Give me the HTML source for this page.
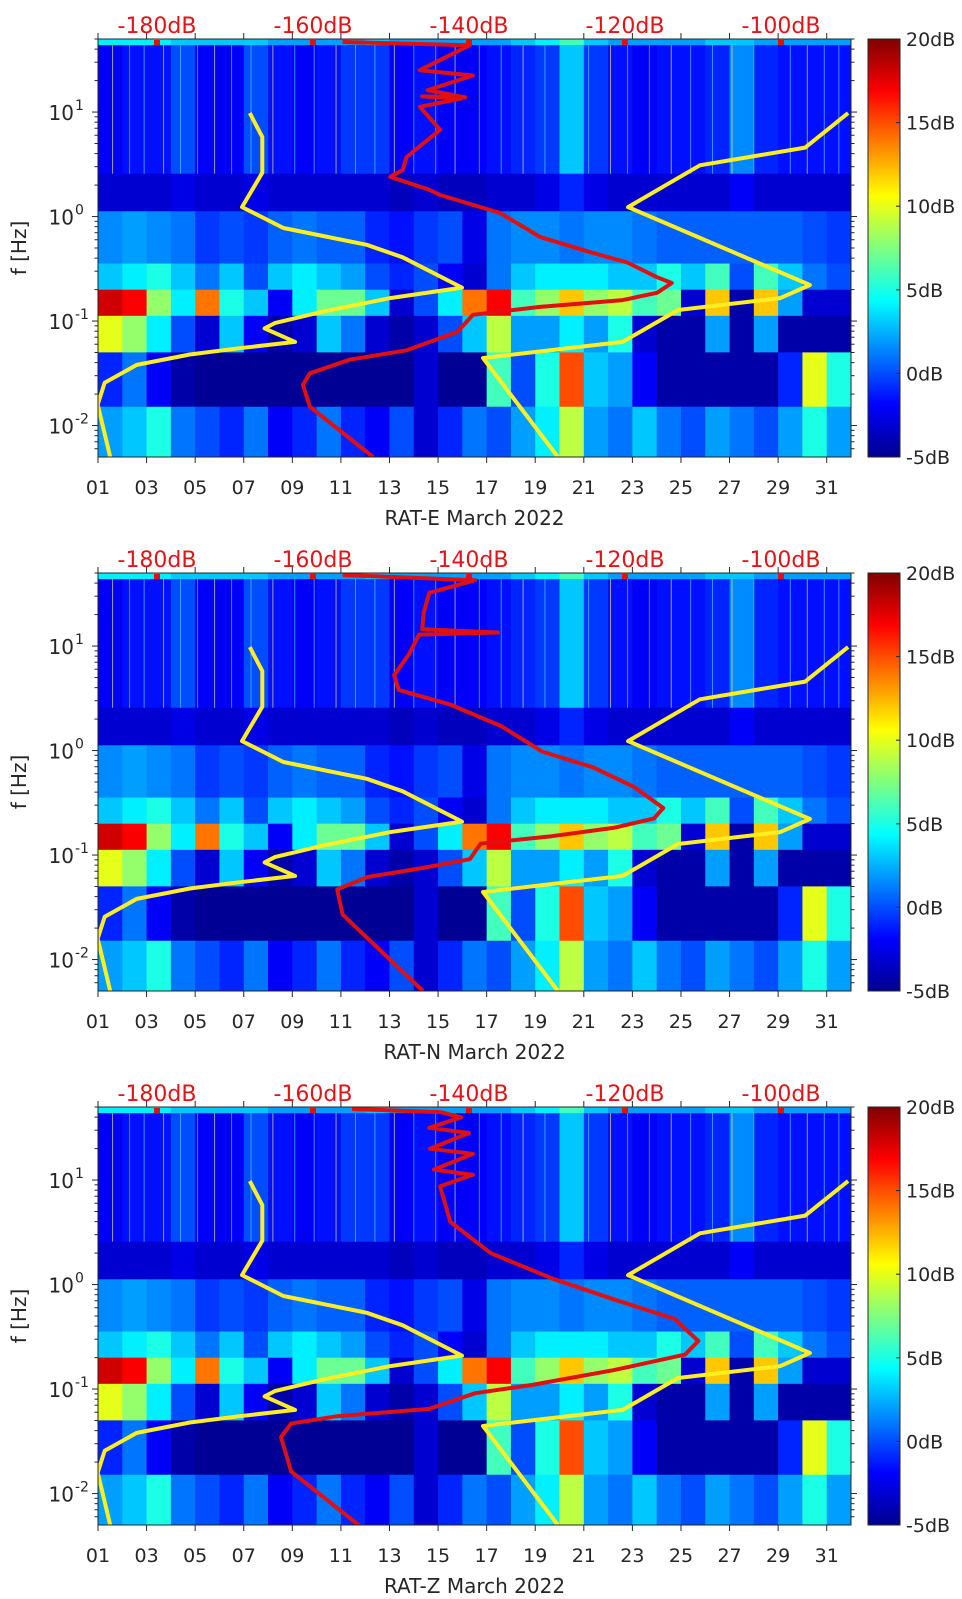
<!DOCTYPE html>
<html><head><meta charset="utf-8">
<style>
html,body{margin:0;padding:0;background:#fff;}
svg{display:block;font-family:"DejaVu Sans","Liberation Sans",sans-serif;}
</style></head>
<body>
<svg id="fig" width="962" height="1599" viewBox="0 0 962 1599" xmlns="http://www.w3.org/2000/svg">
<defs>
<linearGradient id="jet" x1="0" y1="1" x2="0" y2="0">
<stop offset="0" stop-color="#00008f"/><stop offset="0.125" stop-color="#0000ff"/>
<stop offset="0.375" stop-color="#00ffff"/><stop offset="0.625" stop-color="#ffff00"/>
<stop offset="0.875" stop-color="#ff0000"/><stop offset="1" stop-color="#800000"/>
</linearGradient>
</defs>
</svg>
<script>
// ---- data ----
const dayTicks = [1,3,5,7,9,11,13,15,17,19,21,23,25,27,29,31];
const dbTicks = [-180,-160,-140,-120,-100];
const cbTicks = [-5,0,5,10,15,20];
const panelNames = ["RAT-E March 2022","RAT-N March 2022","RAT-Z March 2022"];
// frequency band edges (log10 Hz), top to bottom
const bandEdges = [1.699,1.64,0.41,0.05,-0.45,-0.7,-0.95,-1.3,-1.82,-2.301];
// per-day PSD values (dB) in each band, days 1..31
const band0 = [4,4,4,3,3,3,3,2,2,2,2,3,2,2,2,2,2,3,4,6,3,2,2,2,2,3,3,2,2,2,2];
const band1 = [-2,-1.5,-1.5,0,-2,-2,0,-1.5,-2,-1.5,-0.5,-0.5,-2,-1.5,-2,-2,-1.5,-1,-0.5,3,-0.5,-1.5,-2,-1.5,-1.5,-1,1.5,-1,-1.5,-1.5,-1.5];
const band2 = [-3,-3,-3,-2.5,-3,-3,-2.5,-3,-3,-3,-3,-3,-3.5,-3,-3.5,-3.5,-3,-3,-2.5,-1,-2.5,-3,-3,-3,-3,-3,-2,-3,-3,-3,-3];
const band3 = [1.5,2,1.5,1,-0.5,0,-0.5,0.5,1,0.5,0.5,-1,-1.5,-0.5,0,-2.5,1,1.5,1.5,1,1.5,1.5,1,0.5,0.5,0.5,0.5,0.5,0.5,0,-0.5];
const band4 = [3,4,5,3,1,3,0,3,4,3,2,0,-1,0,-2,-3,1,3,4,4,4,3,3,5,3,6,0,6,3,1,0];
const band5 = [18,17,8,4,14,5,3,-2,4,7,7,3,-3,0,4,14,17,6,8,12,8,9,6,7,-3,12,-4,12,2,-3,-3];
const band6 = [10,8,4,0,-3,3,-2,-4,-3,3,1,-3,-4,-3,0,3,9,2,2,4,2,5,-3,-4,-4,2,-4,2,-4,-4,-4];
const band7 = [-1,1,-2,-4,-4.5,-4.5,-4.5,-4.5,-4.5,-4.5,-4.5,-4.5,-4.5,-3,-4.5,-4.5,6,0,5,15,3,2,-2,-4,-4,-4,-4,-4,-1,10,5];
const band8 = [2,3,5,1,0,-1,1,-2,-1,1,-1,-2,0,-3,-1,1,0,2,4,9,2,1,3,1,0,2,1,0,2,5,2];
// thin vertical noise streaks (day positions)
const streakDays = [1.6,2.3,2.9,3.7,4.4,5.1,5.8,6.5,7.3,8.2,9.1,9.9,10.8,11.6,12.4,13.2,14.0,14.9,15.7,16.7,17.6,18.5,19.4,21.2,22.1,22.8,23.7,24.6,25.4,26.3,27.1,28.0,29.5,30.2,30.9,31.5];
// low noise model (NLNM)
const nlnmDb = [-186.0,-187.6,-186.7,-182.6,-175.8,-169.4,-162.3,-166.2,-164.9,-158.7,-150.1,-140.9,-148.5,-153.1,-163.8,-169.1,-166.5,-166.5,-168.1];
const nlnmLf = [-2.301,-1.80,-1.59,-1.42,-1.32,-1.26,-1.20,-1.07,-1.02,-0.91,-0.78,-0.68,-0.39,-0.27,-0.11,0.09,0.42,0.76,0.99];
// high noise model (NHNM)
const nhnmDb = [-128.6,-138.2,-120.3,-113.2,-100.1,-96.3,-119.6,-110.4,-96.9,-91.4];
const nhnmLf = [-2.301,-1.354,-1.20,-0.894,-0.78,-0.655,0.09,0.49,0.66,0.99];
// median PSD per component
const redEDb = [-152.3,-160.4,-161.3,-160.4,-155.3,-148.0,-141.5,-139.5,-130.9,-120.3,-115.9,-114.0,-115.9,-119.7,-124.5,-130.9,-136.0,-143.7,-145.0,-150.1,-148.5,-148.0,-143.7,-146.3,-141.0,-146.0,-140.5,-145.3,-139.5,-146.3,-139.9,-156.2];
const redELf = [-2.301,-1.82,-1.61,-1.50,-1.37,-1.28,-1.105,-0.94,-0.865,-0.80,-0.73,-0.636,-0.58,-0.44,-0.34,-0.195,0.034,0.206,0.254,0.38,0.445,0.57,0.83,1.05,1.13,1.15,1.14,1.21,1.35,1.40,1.64,1.67];
const redNDb = [-145.9,-156.2,-156.9,-153.0,-146.4,-139.9,-138.5,-129.4,-121.5,-116.3,-115.1,-118.8,-124.1,-130.6,-135.9,-142.4,-149.0,-149.6,-147.7,-146.4,-136.3,-146.0,-145.8,-145.1,-139.2,-156.2];
const redNLf = [-2.301,-1.57,-1.33,-1.21,-1.13,-1.04,-0.89,-0.82,-0.74,-0.65,-0.55,-0.35,-0.16,-0.01,0.235,0.44,0.58,0.72,0.92,1.11,1.13,1.16,1.32,1.51,1.63,1.68];
const redZDb = [-154.0,-162.8,-164.1,-162.8,-156.9,-145.1,-139.2,-131.9,-121.5,-112.3,-110.6,-113.6,-121.5,-129.4,-137.2,-142.4,-143.7,-139.5,-144.5,-139.5,-145.0,-140.0,-145.1,-141.0,-143.7,-155.0];
const redZLf = [-2.31,-1.79,-1.46,-1.33,-1.26,-1.19,-1.04,-0.96,-0.82,-0.67,-0.54,-0.33,-0.14,0.06,0.30,0.60,0.94,1.05,1.10,1.25,1.30,1.45,1.50,1.60,1.65,1.68];

// ---- layout ----
const NS = "http://www.w3.org/2000/svg";
const svg = document.getElementById("fig");
const L = 98, R = 851, H = 418, PERIOD = 534, TOP0 = 39;
const LFMAX = 1.699, LFMIN = -2.301;
function xDay(d){ return L + (d-1)*(R-L)/31; }
function xDb(db){ return 157 + (db+180)*7.8; }
function yLf(top, lf){ return top + (LFMAX-lf)*(H/(LFMAX-LFMIN)); }
function jet(v){
  let t = Math.max(0, Math.min(1, (v+5)/25));
  const c = x => Math.round(255*Math.max(0, Math.min(1, x)));
  return `rgb(${c(1.5-Math.abs(4*t-3))},${c(1.5-Math.abs(4*t-2))},${c(1.5-Math.abs(4*t-1))})`;
}
function mk(tag, attrs, parent){
  const e = document.createElementNS(NS, tag);
  for (const k in attrs) e.setAttribute(k, attrs[k]);
  (parent||svg).appendChild(e);
  return e;
}
const bands = [band0,band1,band2,band3,band4,band5,band6,band7,band8];

function drawPanel(i, redDb, redLf){
  const top = TOP0 + i*PERIOD, bot = top + H;
  const g = mk("g", {});
  
  
  const cp = mk("clipPath", {id:"clip"+i}, g);
  mk("rect", {x:L, y:top, width:R-L, height:H}, cp);
  const hm = mk("g", {"clip-path":`url(#clip${i})`}, g);
  
  
  for (let b=0; b<bands.length; b++){
    const y1 = yLf(top, bandEdges[b]), y2 = yLf(top, bandEdges[b+1]);
    for (let d=0; d<31; d++){
      const r = mk("rect", {x:xDay(d+1), y:y1, width:(R-L)/31+0.6, height:y2-y1+0.5, fill:jet(bands[b][d])}, hm);
      
      
    }
  }
  streakDays.forEach((d, k) => {
    const s = mk("line", {x1:xDay(d), x2:xDay(d), y1:yLf(top,1.64), y2:yLf(top,0.41), stroke: k%3===0 ? "#ffff60" : "#60e0ff", "stroke-width":1, opacity:0.6}, hm);
    
    
  });
  const lines = mk("g", {"clip-path":`url(#clip${i})`, fill:"none", "stroke-linejoin":"round"}, g);
  const pts = (dbs, lfs) => dbs.map((v,k)=>xDb(v).toFixed(1)+","+yLf(top,lfs[k]).toFixed(1)).join(" ");
  const l1 = mk("polyline", {points:pts(nlnmDb,nlnmLf), stroke:"#ffee22", "stroke-width":4}, lines);
  
  
  const l2 = mk("polyline", {points:pts(nhnmDb,nhnmLf), stroke:"#ffee22", "stroke-width":4}, lines);
  
  
  const l3 = mk("polyline", {points:pts(redDb,redLf), stroke:"#e01010", "stroke-width":4}, lines);
  
  
  const fr = mk("rect", {x:L, y:top, width:R-L, height:H, fill:"none", stroke:"#262626", "stroke-width":1}, g);
  
  
  dayTicks.forEach(d => {
    const x = xDay(d);
    mk("line", {x1:x, x2:x, y1:bot, y2:bot+6, stroke:"#262626"}, g);
    mk("line", {x1:x, x2:x, y1:top, y2:top-6, stroke:"#262626"}, g);
    const t = mk("text", {x:x, y:bot+37, "text-anchor":"middle", "font-size":19, fill:"#262626"}, g);
    t.textContent = (d<10?"0":"")+d;
    
    
  });
  const xl = mk("text", {x:(L+R)/2, y:bot+68, "text-anchor":"middle", "font-size":20, fill:"#262626"}, g);
  xl.textContent = panelNames[i];
  
  
  dbTicks.forEach(v => {
    const x = xDb(v);
    mk("rect", {x:x-3, y:top+1, width:6, height:5, fill:"#e01010"}, g);
    const t = mk("text", {x:x, y:top-6, "text-anchor":"middle", "font-size":22, fill:"#e0141a"}, g);
    t.textContent = v+"dB";
    
    
  });
  for (let e=-3; e<=1; e++){
    for (let m=1; m<=9; m++){
      const lf = e + Math.log10(m);
      if (lf < LFMIN-1e-6 || lf > LFMAX+1e-6) continue;
      const y = yLf(top, lf), len = m===1 ? 6 : 3.5;
      mk("line", {x1:L, x2:L-len, y1:y, y2:y, stroke:"#262626"}, g);
      mk("line", {x1:R, x2:R+len, y1:y, y2:y, stroke:"#262626"}, g);
    }
  }
  [1,0,-1,-2].forEach(e => {
    const y = yLf(top, e);
    const t = mk("text", {x:74, y:y+8, "text-anchor":"end", "font-size":20, fill:"#262626"}, g);
    t.textContent = "10";
    
    
    const s = mk("text", {x:75, y:y-2, "text-anchor":"start", "font-size":14, fill:"#262626"}, g);
    s.textContent = String(e);
    
    
  });
  const yl = mk("text", {x:0, y:0, "text-anchor":"middle", "font-size":20, fill:"#262626", transform:`translate(26,${top+H/2}) rotate(-90)`}, g);
  yl.textContent = "f [Hz]";
  
  
  const cb = mk("rect", {x:868, y:top, width:32, height:H, fill:"url(#jet)", stroke:"#262626", "stroke-width":1}, g);
  
  
  cbTicks.forEach(v => {
    const y = bot - (v+5)/25*H;
    mk("line", {x1:900, x2:896, y1:y, y2:y, stroke:"#262626"}, g);
    const t = mk("text", {x:906, y:y+7, "font-size":19, fill:"#262626"}, g);
    t.textContent = v+"dB";
    
    
  });
}
drawPanel(0, redEDb, redELf);
drawPanel(1, redNDb, redNLf);
drawPanel(2, redZDb, redZLf);
</script>
</body></html>
